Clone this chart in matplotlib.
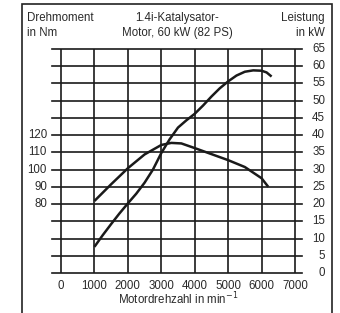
import matplotlib
matplotlib.use('Agg')
import matplotlib.pyplot as plt
from matplotlib.patches import Rectangle
import matplotlib.transforms as mtransforms

plt.rcParams['font.family'] = ['Liberation Sans', 'DejaVu Sans']

# engine speed (rpm) and power (kW)
rpm_power = [1000, 1250, 1500, 1750, 2000, 2250, 2500, 2750, 3000, 3250,
             3500, 3750, 4000, 4250, 4500, 4750, 5000, 5250, 5500, 5750,
             6000, 6150, 6300]
power_kw = [7.6, 11, 14.2, 17.3, 20.2, 23, 26.2, 30, 34.8, 38.8,
            42.2, 44.3, 46.2, 48.6, 51.2, 53.6, 55.6, 57.3, 58.4, 58.8,
            58.7, 58.2, 57]

# engine speed (rpm) and torque (Nm)
rpm_torque = [1000, 1500, 2000, 2500, 3000, 3300, 3600, 4000, 4500,
              5000, 5500, 6000, 6200]
torque_nm = [81.8, 91.5, 100.8, 108.8, 114.3, 115.5, 115.2, 112.5, 109,
             105.5, 101.5, 95, 90]

rpm_ticks = [0, 1000, 2000, 3000, 4000, 5000, 6000, 7000]
kw_ticks = list(range(0, 70, 5))
nm_ticks = [80, 90, 100, 110, 120]

W, H = 340, 313
fig = plt.figure(figsize=(W / 100, H / 100), dpi=100)

# frame around the whole graphic
fig.patches.append(Rectangle((22 / W, -0.05), 310 / W, 1 - 4 / H + 0.05,
                             transform=fig.transFigure, fill=False,
                             lw=1.2, ec='#222222'))

ax = fig.add_axes([52 / W, (H - 273) / H, 250 / W, 224 / H])
x0, x1 = -9 / 234 * 7000, 241 / 234 * 7000
ax.set_xlim(x0, x1)
ax.set_ylim(0, 65)
for s in ax.spines.values():
    s.set_visible(False)
ax.set_xticks([])
ax.set_yticks([])
ax.patch.set_alpha(0)

lc = '#1a1a1a'
for k in kw_ticks:
    ax.axhline(k, color=lc, lw=1.2, clip_on=False)
ax.vlines(rpm_ticks, 0, 65, color=lc, lw=1.2, clip_on=False)

ax.plot(rpm_power, power_kw, color=lc, lw=1.8, solid_capstyle='butt',
        solid_joinstyle='round')

axt = ax.twinx()
axt.set_ylim(40, 170)
axt.set_axis_off()
axt.plot(rpm_torque, torque_nm, color=lc, lw=1.8, solid_capstyle='butt',
         solid_joinstyle='round')

fs = 8.3
tc = '#2a2a2a'
# right labels (kW)
tr = mtransforms.blended_transform_factory(fig.transFigure, ax.transData)
for k in kw_ticks:
    ax.text(325 / W, k, str(k), transform=tr, ha='right', va='center',
            fontsize=fs, color=tc)
# left labels (Nm)
trt = mtransforms.blended_transform_factory(fig.transFigure, axt.transData)
for n in nm_ticks:
    axt.text(47 / W, n, str(n), transform=trt, ha='right', va='center',
             fontsize=fs, color=tc)
# x labels
trx = mtransforms.blended_transform_factory(ax.transData, fig.transFigure)
for r in rpm_ticks:
    ax.text(r, 1 - 286 / H, str(r), transform=trx, ha='center',
            va='center', fontsize=fs, color=tc)
fig.text(178 / W, 1 - 299 / H, 'Motordrehzahl in min$^{-1}$', ha='center',
         va='center', fontsize=fs, color=tc)

# header
fig.text(27 / W, 1 - 18 / H, 'Drehmoment', ha='left', va='center',
         fontsize=fs, color=tc)
fig.text(27 / W, 1 - 33 / H, 'in Nm', ha='left', va='center',
         fontsize=fs, color=tc)
fig.text(177 / W, 1 - 18 / H, '1.4i-Katalysator-', ha='center',
         va='center', fontsize=fs, color=tc)
fig.text(177 / W, 1 - 33 / H, 'Motor, 60 kW (82 PS)', ha='center',
         va='center', fontsize=fs, color=tc)
fig.text(325 / W, 1 - 18 / H, 'Leistung', ha='right', va='center',
         fontsize=fs, color=tc)
fig.text(325 / W, 1 - 33 / H, 'in kW', ha='right', va='center',
         fontsize=fs, color=tc)

fig.savefig('out.png', dpi=100)
